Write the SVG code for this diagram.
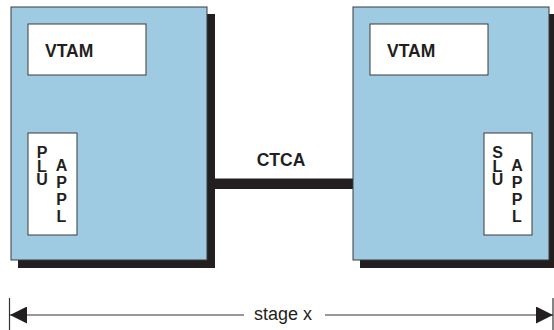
<svg xmlns="http://www.w3.org/2000/svg" width="554" height="330" viewBox="0 0 554 330">
<style>
.shadow{fill:#231f20}
.box{fill:#9ecbe2;stroke:#3a3a3a;stroke-width:1}
.inner{fill:#ffffff;stroke:#3a3a3a;stroke-width:1}
.lbl{font-family:"Liberation Sans",Arial,sans-serif;font-weight:bold;font-size:17.5px;fill:#231f20}
.v{font-family:"Liberation Sans",Arial,sans-serif;font-weight:bold;font-size:16px;fill:#231f20;writing-mode:vertical-rl;text-orientation:upright}
.t{letter-spacing:-3.5px}
.a{letter-spacing:0px}
.dim{font-family:"Liberation Sans",Arial,sans-serif;font-size:18px;fill:#231f20;text-anchor:middle}
.dline{stroke:#333;stroke-width:1.2;fill:none}
</style>
<defs>
<marker id="ah" viewBox="0 0 10 10" refX="10" refY="5" markerWidth="19" markerHeight="17" markerUnits="userSpaceOnUse" orient="auto-start-reverse">
<path d="M0,0 L10,5 L0,10 Z" fill="#231f20"/>
</marker>
</defs>
<g id="connectors">
<rect x="211" y="178.5" width="142" height="10.5" fill="#231f20"/>
<text class="lbl" x="281" y="166" text-anchor="middle">CTCA</text>
<line class="dline" x1="9.5" y1="298" x2="9.5" y2="330"/>
<line class="dline" x1="553" y1="298" x2="553" y2="330"/>
<line class="dline" x1="10" y1="315" x2="244" y2="315" marker-start="url(#ah)"/>
<line class="dline" x1="325" y1="315" x2="553" y2="315" marker-end="url(#ah)"/>
<text class="dim" x="283" y="320">stage x</text>
</g>
<g id="left-host">
<rect class="shadow" x="18" y="14" width="197" height="254"/>
<rect class="box" x="11" y="7" width="196" height="253"/>
<g id="left-vtam">
<rect class="inner" x="28" y="24" width="118" height="51"/>
<text class="lbl" x="45" y="57">VTAM</text>
</g>
<g id="left-plu">
<rect class="inner" x="28" y="133" width="49" height="102"/>
<text class="v t" x="42" y="144">PLU</text>
<text class="v a" x="61.5" y="157">APPL</text>
</g>
</g>
<g id="right-host">
<rect class="shadow" x="360" y="14" width="197" height="254"/>
<rect class="box" x="353" y="7" width="196" height="253"/>
<g id="right-vtam">
<rect class="inner" x="370" y="24" width="118" height="51"/>
<text class="lbl" x="387" y="57">VTAM</text>
</g>
<g id="right-slu">
<rect class="inner" x="484" y="133" width="48" height="102"/>
<text class="v t" x="497.5" y="144">SLU</text>
<text class="v a" x="517" y="157">APPL</text>
</g>
</g>
</svg>
